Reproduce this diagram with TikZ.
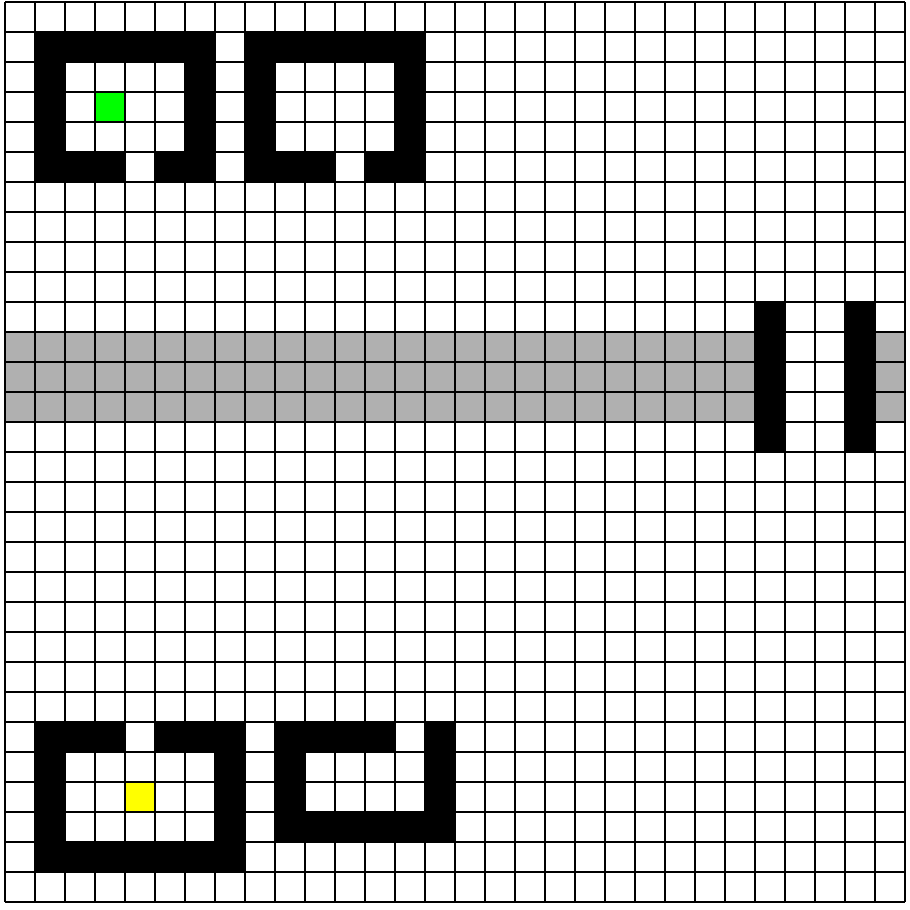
\documentclass[tikz,border=0pt]{standalone}
\definecolor{bandgray}{HTML}{B0B0B0}
\definecolor{startgreen}{HTML}{00FF00}
\definecolor{goalyellow}{HTML}{FFFF00}
\tikzset{
  wall/.style={fill=black},
  band/.style={fill=bandgray},
  startcell/.style={fill=startgreen},
  goalcell/.style={fill=goalyellow},
  gridline/.style={line width=1.8pt, black}
}
\begin{document}
\begin{tikzpicture}
\useasboundingbox[fill=white] (-0.1667,-0.2333) rectangle (30.1667,30.0667);
% gray band
\fill[band] (0,16) rectangle (25,19);
\fill[band] (29,16) rectangle (30,19);
% structure A (top left)
\fill[wall] (1,28) rectangle (7,29);
\fill[wall] (1,24) rectangle (2,29);
\fill[wall] (6,24) rectangle (7,29);
\fill[wall] (1,24) rectangle (4,25);
\fill[wall] (5,24) rectangle (7,25);
\fill[startcell] (3,26) rectangle (4,27);
% structure B (top second)
\fill[wall] (8,28) rectangle (14,29);
\fill[wall] (8,24) rectangle (9,29);
\fill[wall] (13,24) rectangle (14,29);
\fill[wall] (8,24) rectangle (11,25);
\fill[wall] (12,24) rectangle (14,25);
% bars
\fill[wall] (25,15) rectangle (26,20);
\fill[wall] (28,15) rectangle (29,20);
% structure C (bottom left)
\fill[wall] (1,5) rectangle (4,6);
\fill[wall] (5,5) rectangle (8,6);
\fill[wall] (1,1) rectangle (2,6);
\fill[wall] (7,1) rectangle (8,6);
\fill[wall] (1,1) rectangle (8,2);
\fill[goalcell] (4,3) rectangle (5,4);
% structure D (bottom second)
\fill[wall] (9,5) rectangle (13,6);
\fill[wall] (14,2) rectangle (15,6);
\fill[wall] (9,2) rectangle (10,6);
\fill[wall] (9,2) rectangle (15,3);
% grid
\draw[gridline] (0,0) grid (30,30);
\end{tikzpicture}
\end{document}
